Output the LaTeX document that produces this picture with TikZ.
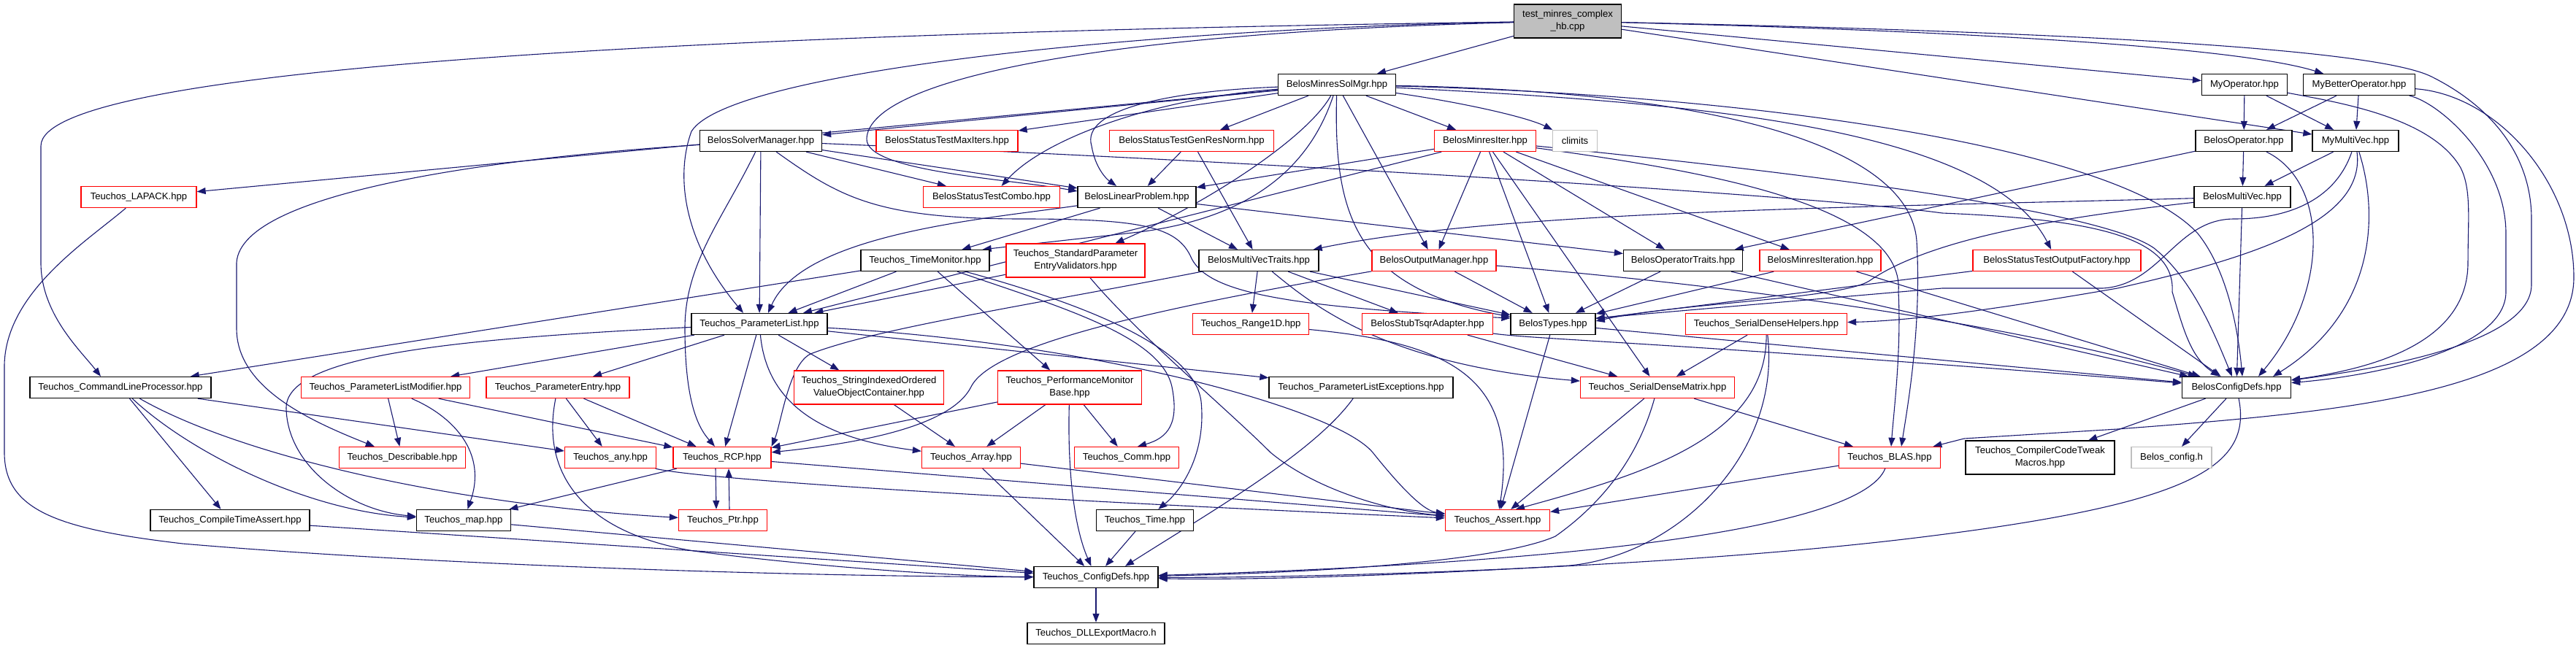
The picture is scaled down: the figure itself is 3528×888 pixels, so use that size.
\documentclass[tikz,border=0pt]{standalone}
\usepackage{fontspec}
\setmainfont{Liberation Sans}
\usetikzlibrary{arrows.meta}
\pgfdeclarelayer{bg}
\pgfsetlayers{bg,main}
\definecolor{edgec}{RGB}{25,25,112}
\definecolor{redc}{RGB}{255,0,0}
\definecolor{grayc}{RGB}{191,191,191}
\begin{document}
\begin{tikzpicture}[x=1pt,y=-1pt,
  box/.style={draw=black, line width=1.3pt, fill=white, inner sep=0pt, minimum height=29pt, align=center, font=\fontsize{13.1}{17}\selectfont},
  rbox/.style={box, draw=redc},
  gbox/.style={box, draw=grayc},
  dep/.style={draw=edgec, line width=1.1pt, -{Triangle[length=12pt,width=9pt]}}]
\useasboundingbox (0,0) rectangle (3528,888);
% nodes
\node[box, fill=grayc, minimum width=147pt, minimum height=46pt] (test) at (2147,29) {test\_minres\_complex\\\_hb.cpp};
\node[box, minimum width=161pt] (msm) at (1831,116) {BelosMinresSolMgr.hpp};
\node[box, minimum width=117pt] (mop) at (3074,116) {MyOperator.hpp};
\node[box, minimum width=153pt] (mbo) at (3231,116) {MyBetterOperator.hpp};
\node[box, minimum width=167pt] (sm) at (1042,193) {BelosSolverManager.hpp};
\node[rbox, minimum width=194pt] (mi) at (1297,193) {BelosStatusTestMaxIters.hpp};
\node[rbox, minimum width=225pt] (grn) at (1632,193) {BelosStatusTestGenResNorm.hpp};
\node[rbox, minimum width=139pt] (mit) at (2034,193) {BelosMinresIter.hpp};
\node[gbox, minimum width=61pt] (cl) at (2157,193) {climits};
\node[box, minimum width=132pt] (bop) at (3073,193) {BelosOperator.hpp};
\node[box, minimum width=118pt] (mmv) at (3226,193) {MyMultiVec.hpp};
\node[rbox, minimum width=158pt] (lap) at (190,270) {Teuchos\_LAPACK.hpp};
\node[rbox, minimum width=187pt] (cmb) at (1358,270) {BelosStatusTestCombo.hpp};
\node[box, minimum width=162pt] (lp) at (1557,270) {BelosLinearProblem.hpp};
\node[box, minimum width=132pt] (bmv) at (3071,270) {BelosMultiVec.hpp};
\node[box, minimum width=176pt] (tm) at (1267,357) {Teuchos\_TimeMonitor.hpp};
\node[rbox, minimum width=190pt, minimum height=46pt] (spv) at (1473,357) {Teuchos\_StandardParameter\\EntryValidators.hpp};
\node[box, minimum width=164pt] (mvt) at (1724,357) {BelosMultiVecTraits.hpp};
\node[rbox, minimum width=170pt] (om) at (1964,357) {BelosOutputManager.hpp};
\node[box, minimum width=163pt] (ot) at (2305,357) {BelosOperatorTraits.hpp};
\node[rbox, minimum width=166pt] (mis) at (2493,357) {BelosMinresIteration.hpp};
\node[rbox, minimum width=230pt] (of) at (2817,357) {BelosStatusTestOutputFactory.hpp};
\node[box, minimum width=186pt] (pl) at (1040,444) {Teuchos\_ParameterList.hpp};
\node[rbox, minimum width=159pt] (r1d) at (1713,444) {Teuchos\_Range1D.hpp};
\node[rbox, minimum width=179pt] (sta) at (1955,444) {BelosStubTsqrAdapter.hpp};
\node[box, minimum width=116pt] (bt) at (2127,444) {BelosTypes.hpp};
\node[rbox, minimum width=221pt] (sdh) at (2419,444) {Teuchos\_SerialDenseHelpers.hpp};
\node[box, minimum width=248pt] (clp) at (165,531) {Teuchos\_CommandLineProcessor.hpp};
\node[rbox, minimum width=231pt] (plm) at (528,531) {Teuchos\_ParameterListModifier.hpp};
\node[rbox, minimum width=196pt] (pe) at (764,531) {Teuchos\_ParameterEntry.hpp};
\node[rbox, minimum width=205pt, minimum height=46pt] (sio) at (1190,531) {Teuchos\_StringIndexedOrdered\\ValueObjectContainer.hpp};
\node[rbox, minimum width=197pt, minimum height=46pt] (pmb) at (1465,531) {Teuchos\_PerformanceMonitor\\Base.hpp};
\node[box, minimum width=252pt] (ple) at (1864,531) {Teuchos\_ParameterListExceptions.hpp};
\node[rbox, minimum width=211pt] (sdm) at (2270,531) {Teuchos\_SerialDenseMatrix.hpp};
\node[box, minimum width=149pt] (bcd) at (3063,531) {BelosConfigDefs.hpp};
\node[rbox, minimum width=173pt] (desc) at (551,627) {Teuchos\_Describable.hpp};
\node[rbox, minimum width=125pt] (any) at (836,627) {Teuchos\_any.hpp};
\node[rbox, minimum width=134pt] (rcp) at (989,627) {Teuchos\_RCP.hpp};
\node[rbox, minimum width=135pt] (arr) at (1330,627) {Teuchos\_Array.hpp};
\node[rbox, minimum width=143pt] (comm) at (1543,627) {Teuchos\_Comm.hpp};
\node[rbox, minimum width=139pt] (blas) at (2588,627) {Teuchos\_BLAS.hpp};
\node[box, minimum width=204pt, minimum height=46pt] (cct) at (2794,627) {Teuchos\_CompilerCodeTweak\\Macros.hpp};
\node[gbox, minimum width=110pt] (bch) at (2974,627) {Belos\_config.h};
\node[box, minimum width=218pt] (cta) at (315,713) {Teuchos\_CompileTimeAssert.hpp};
\node[box, minimum width=129pt] (map) at (635,713) {Teuchos\_map.hpp};
\node[rbox, minimum width=121pt] (ptr) at (990,713) {Teuchos\_Ptr.hpp};
\node[box, minimum width=133pt] (time) at (1568,713) {Teuchos\_Time.hpp};
\node[rbox, minimum width=143pt] (asrt) at (2051,713) {Teuchos\_Assert.hpp};
\node[box, minimum width=170pt] (tcd) at (1501,791) {Teuchos\_ConfigDefs.hpp};
\node[box, minimum width=188pt] (dll) at (1501,868) {Teuchos\_DLLExportMacro.h};

\begin{pgfonlayer}{bg}
% root
\draw[dep] (test) -- (msm);
\draw[dep] (test) -- (mop);
\draw[dep] (test) .. controls (2600,40) and (3050,60) .. (mbo);
\draw[dep] (test) -- (mmv);
\draw[dep] (test) .. controls (2900,45) and (3260,70) .. (3330,105) .. controls (3420,150) and (3467,220) .. (3467,300) -- (3467,390) .. controls (3467,470) and (3260,505) .. (bcd);
\draw[dep] (test) .. controls (1500,45) and (1190,110) .. (1187,190) .. controls (1185,235) and (1380,245) .. ([yshift=8pt]lp.west);
\draw[dep] (test) .. controls (1600,38) and (1000,95) .. (947,180) .. controls (925,240) and (935,330) .. ([xshift=-22pt]pl.north);
\draw[dep] (test) .. controls (1000,45) and (56,90) .. (56,200) -- (56,360) .. controls (56,430) and (110,480) .. ([xshift=-27pt]clp.north);
% BelosMinresSolMgr
\draw[dep] (msm) -- (sm);
\draw[dep] (msm) -- (mi);
\draw[dep] (msm) -- (grn);
\draw[dep] (msm) .. controls (1580,135) and (1430,190) .. (cmb);
\draw[dep] (msm) .. controls (1600,125) and (1480,150) .. (1495,200) .. controls (1500,230) and (1515,245) .. ([xshift=-28pt]lp.north);
\draw[dep] (msm) -- (lap);
\draw[dep] (msm) -- (mit);
\draw[dep] (msm) .. controls (2000,140) and (2090,160) .. (cl);
\draw[dep] (msm) -- (om);
\draw[dep] (msm) .. controls (1826,300) and (1860,395) .. ([yshift=10pt]bt.west);
\draw[dep] (msm) .. controls (1790,190) and (1650,280) .. (spv);
\draw[dep] (msm) .. controls (1790,240) and (1700,300) .. (1560,318) -- ([xshift=-10pt]tm.north east);
\draw[dep] (msm) .. controls (2300,140) and (2720,170) .. (of);
\draw[dep] (msm) .. controls (2400,130) and (2900,200) .. (3010,320) .. controls (3050,370) and (3065,450) .. ([xshift=8pt]bcd.north);
\draw[dep] (msm) .. controls (2350,125) and (2615,200) .. (2625,330) .. controls (2632,450) and (2612,560) .. ([xshift=16pt]blas.north);
% BelosMinresIter
\draw[dep] (mit) -- (lp);
\draw[dep] (mit) -- (pl);
\draw[dep] (mit) -- (om);
\draw[dep] (mit) -- (bt);
\draw[dep] (mit) -- (ot);
\draw[dep] (mit) -- (mis);
\draw[dep] (mit) -- (sdm);
\draw[dep] (mit) .. controls (2500,240) and (2880,290) .. (2950,340) .. controls (3000,380) and (3030,450) .. (bcd);
\draw[dep] (mit) .. controls (2300,230) and (2610,275) .. (2600,400) .. controls (2604,480) and (2594,560) .. ([xshift=2pt]blas.north);
% MyOperator / MyBetterOperator
\draw[dep] (mop) -- (bop);
\draw[dep] (mop) -- (mmv);
\draw[dep] (mop) .. controls (3200,140) and (3330,160) .. (3370,230) .. controls (3385,260) and (3380,300) .. (3380,360) .. controls (3380,470) and (3250,505) .. (bcd);
\draw[dep] (mbo) -- (bop);
\draw[dep] (mbo) -- (mmv);
\draw[dep] (mbo) .. controls (3340,140) and (3432,220) .. (3432,320) -- (3432,400) .. controls (3432,480) and (3250,515) .. (bcd);
\draw[dep] (mbo) .. controls (3420,130) and (3525,250) .. (3525,380) .. controls (3525,540) and (3200,565) .. (2900,588) -- (2690,601) -- (blas);
% BelosOperator
\draw[dep] (bop) -- (bmv);
\draw[dep] (bop) -- (ot);
\draw[dep] (bop) .. controls (3190,250) and (3190,400) .. ([xshift=30pt]bcd.north);
% MyMultiVec
\draw[dep] (mmv) -- (bmv);
\draw[dep] (mmv) .. controls (3260,300) and (3250,430) .. ([xshift=50pt]bcd.north);
\draw[dep] (mmv) .. controls (3240,300) and (3100,350) .. (2900,395) .. controls (2700,430) and (2600,440) .. (sdh);
\draw[dep] (mmv) .. controls (3200,270) and (3140,300) .. (3060,300) .. controls (2980,300) and (2960,390) .. (2880,395) -- (2660,395) -- ([yshift=8pt]bt.east);
% BelosMultiVec
\draw[dep] (bmv) .. controls (2500,285) and (2050,290) .. ([xshift=-8pt]mvt.north east);
\draw[dep] (bmv) .. controls (2800,300) and (2640,330) .. (2560,385) .. controls (2520,410) and (2300,415) .. ([yshift=4pt]bt.east);
\draw[dep] (bmv) -- (bcd);
% BelosLinearProblem
\draw[dep] (lp) -- (tm);
\draw[dep] (lp) -- (mvt);
\draw[dep] (lp) -- (ot);
\draw[dep] (lp) .. controls (1350,300) and (1100,320) .. ([xshift=12pt]pl.north);
% GenResNorm
\draw[dep] (grn) -- (lp);
\draw[dep] (grn) -- (mvt);
% BelosSolverManager
\draw[dep] (sm) -- (lp);
\draw[dep] (sm) -- (cmb);
\draw[dep] (sm) -- (pl);
\draw[dep] (sm) .. controls (990,300) and (938,360) .. (938,450) .. controls (938,560) and (960,590) .. ([xshift=-10pt]rcp.north);
\draw[dep] (sm) .. controls (700,215) and (330,260) .. (324,360) -- (324,450) .. controls (324,530) and (420,575) .. (desc);
\draw[dep] (sm) .. controls (1150,270) and (1200,300) .. (1400,300) .. controls (1560,300) and (1610,310) .. (1630,350) .. controls (1650,400) and (1750,420) .. ([yshift=8pt]bt.west);
\draw[dep] (sm) .. controls (1800,225) and (2500,270) .. (2660,292) .. controls (2850,300) and (2980,320) .. (2975,400) .. controls (2990,450) and (3000,490) .. (bcd);
% StandardParameterEntryValidators
\draw[dep] (spv) -- (pl);
\draw[dep] (spv) .. controls (1560,460) and (1680,560) .. (1740,620) .. controls (1800,670) and (1900,700) .. (asrt);
% TimeMonitor
\draw[dep] (tm) -- (pl);
\draw[dep] (tm) -- (clp);
\draw[dep] (tm) -- (pmb);
\draw[dep] (tm) .. controls (1450,420) and (1590,460) .. (1605,530) .. controls (1615,580) and (1600,600) .. ([xshift=15pt]comm.north);
\draw[dep] (tm) .. controls (1460,410) and (1635,470) .. (1645,550) .. controls (1652,620) and (1620,670) .. (time);
% PerformanceMonitorBase
\draw[dep] (pmb) -- (rcp);
\draw[dep] (pmb) -- (arr);
\draw[dep] (pmb) -- (comm);
\draw[dep] (pmb) .. controls (1462,640) and (1470,720) .. (tcd);
\draw[dep] (sio) -- (arr);
% ParameterList
\draw[dep] (pl) -- (plm);
\draw[dep] (pl) -- (pe);
\draw[dep] (pl) .. controls (600,465) and (390,490) .. (392,560) .. controls (394,640) and (480,700) .. (map);
\draw[dep] (pl) -- (sio);
\draw[dep] (pl) -- (rcp);
\draw[dep] (pl) .. controls (1050,550) and (1120,600) .. (arr);
\draw[dep] (pl) -- (ple);
\draw[dep] (pl) .. controls (1500,470) and (1830,560) .. (1880,620) .. controls (1920,670) and (1950,700) .. (asrt);
% CommandLineProcessor
\draw[dep] (clp) -- (cta);
\draw[dep] (clp) .. controls (260,620) and (420,700) .. (map);
\draw[dep] (clp) .. controls (320,620) and (600,690) .. (ptr);
\draw[dep] (clp) -- (any);
% ParameterListModifier / ParameterEntry
\draw[dep] (plm) -- (desc);
\draw[dep] (plm) .. controls (620,570) and (668,620) .. (map);
\draw[dep] (plm) -- (rcp);
\draw[dep] (pe) -- (any);
\draw[dep] (pe) -- (rcp);
\draw[dep] (pe) .. controls (740,650) and (800,730) .. (950,755) .. controls (1100,775) and (1300,790) .. (tcd);
% RCP / Ptr
\draw[dep] ([xshift=-9pt]rcp.south) -- ([xshift=-9pt]ptr.north);
\draw[dep] ([xshift=9pt]ptr.north) -- ([xshift=9pt]rcp.south);
\draw[dep] (rcp) -- (asrt);
\draw[dep] (rcp) -- (map);
% lower
\draw[dep] (any) .. controls (950,655) and (1300,680) .. (asrt);
\draw[dep] (arr) -- (asrt);
\draw[dep] (arr) -- (tcd);
\draw[dep] (map) -- (tcd);
\draw[dep] (cta) -- (tcd);
\draw[dep] (lap) .. controls (120,330) and (8,400) .. (6,500) -- (6,620) .. controls (6,700) and (80,725) .. (250,745) .. controls (600,775) and (1100,790) .. (tcd);
\draw[dep] (time) -- (tcd);
\draw[dep] (ple) .. controls (1800,620) and (1660,700) .. ([xshift=40pt]tcd.north);
\draw[dep] (tcd) -- (dll);
% BLAS / SerialDense
\draw[dep] (blas) -- (asrt);
\draw[dep] (blas) .. controls (2550,720) and (2200,770) .. (tcd);
\draw[dep] (sdm) -- (blas);
\draw[dep] (sdm) -- (asrt);
\draw[dep] (sdm) .. controls (2240,640) and (2180,700) .. (2130,735) .. controls (2050,770) and (1800,785) .. (tcd);
\draw[dep] (sdh) -- (sdm);
\draw[dep] (sdh) .. controls (2420,600) and (2250,650) .. ([xshift=25pt]asrt.north);
\draw[dep] (sdh) .. controls (2440,620) and (2300,760) .. (2150,775) .. controls (1900,790) and (1700,795) .. (tcd);
% Belos middle
\draw[dep] (bt) -- (asrt);
\draw[dep] (bt) -- (bcd);
\draw[dep] (om) -- (bt);
\draw[dep] (om) .. controls (1600,420) and (1360,470) .. (1330,530) .. controls (1300,590) and (1150,610) .. (rcp);
\draw[dep] (om) .. controls (2300,385) and (2700,430) .. (bcd);
\draw[dep] (ot) -- (bt);
\draw[dep] (ot) -- (bcd);
\draw[dep] (mis) -- (bt);
\draw[dep] (mis) -- (bcd);
\draw[dep] (of) -- (bt);
\draw[dep] (of) -- (bcd);
\draw[dep] (sta) -- (sdm);
\draw[dep] (sta) .. controls (2100,465) and (2300,470) .. (bcd);
\draw[dep] (r1d) .. controls (1990,470) and (2080,520) .. (asrt);
\draw[dep] (mvt) -- (r1d);
\draw[dep] (mvt) -- (bt);
\draw[dep] (mvt) -- (sta);
\draw[dep] (mvt) .. controls (1400,420) and (1200,450) .. (1110,485) .. controls (1080,500) and (1070,580) .. (rcp.north east);
\draw[dep] (mvt) .. controls (1800,420) and (1900,500) .. (sdm);
% BelosConfigDefs
\draw[dep] (bcd) -- (cct);
\draw[dep] (bcd) -- (bch);
\draw[dep] (bcd) .. controls (3085,640) and (3000,690) .. (2640,735) .. controls (2300,778) and (1800,792) .. (tcd);
\end{pgfonlayer}
\end{tikzpicture}
\end{document}
